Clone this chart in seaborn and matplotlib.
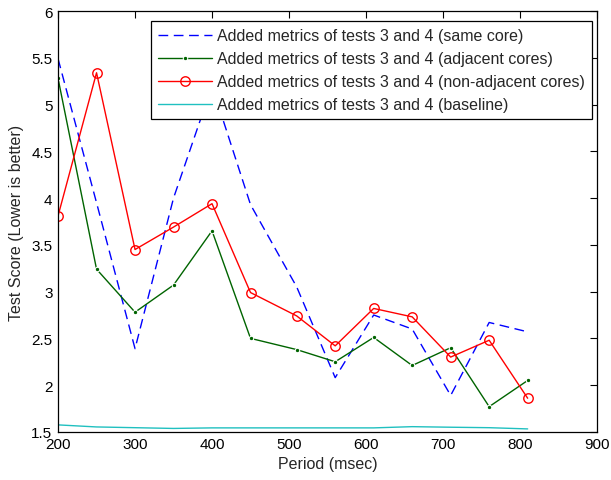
import matplotlib
matplotlib.use("Agg")
import matplotlib.pyplot as plt
import seaborn as sns
import pandas as pd

periods = [200, 250, 300, 350, 400, 450, 510, 560, 610, 660, 710, 760, 810]
same_core = [5.49, 3.95, 2.39, 4.00, 5.20, 3.93, 3.05, 2.08, 2.75, 2.60, 1.89, 2.67, 2.57]
adjacent = [5.28, 3.24, 2.78, 3.07, 3.65, 2.50, 2.38, 2.25, 2.51, 2.21, 2.40, 1.77, 2.05]
non_adjacent = [3.81, 5.34, 3.45, 3.69, 3.94, 2.99, 2.74, 2.42, 2.82, 2.73, 2.30, 2.48, 1.86]
baseline = [1.575, 1.553, 1.545, 1.537, 1.543, 1.543, 1.543, 1.543, 1.543, 1.556, 1.550, 1.545, 1.532]

labels = [
    "Added metrics of tests 3 and 4 (same core)",
    "Added metrics of tests 3 and 4 (adjacent cores)",
    "Added metrics of tests 3 and 4 (non-adjacent cores)",
    "Added metrics of tests 3 and 4 (baseline)",
]
x_ticks = [200, 300, 400, 500, 600, 700, 800, 900]
y_ticks = [1.5, 2, 2.5, 3, 3.5, 4, 4.5, 5, 5.5, 6]
y_tick_labels = ["1.5", "2", "2.5", "3", "3.5", "4", "4.5", "5", "5.5", "6"]

sns.set_style("white")
plt.rcParams["font.family"] = ["Liberation Sans", "DejaVu Sans"]

fig = plt.figure(figsize=(6.11, 4.81), dpi=100)
ax = fig.add_axes([0.095, 0.1, 0.882, 0.875])

series = [same_core, adjacent, non_adjacent, baseline]
styles = [
    dict(color="#0000ff", linestyle=(0, (7, 4)), marker=None),
    dict(color="#006400", linestyle="-", marker="o", markersize=3.2),
    dict(color="#ff0000", linestyle="-", marker="o", markersize=6.8,
         markerfacecolor="none", markeredgecolor="#ff0000", markeredgewidth=1.0),
    dict(color="#20c0c0", linestyle="-", marker=None),
]
for vals, lab, st in zip(series, labels, styles):
    df = pd.DataFrame({"Period": periods, "Score": vals})
    sns.lineplot(data=df, x="Period", y="Score", ax=ax, label=lab,
                 linewidth=1.0, **st)

ax.set_xlim(200, 900)
ax.set_ylim(1.5, 6)
ax.set_xticks(x_ticks)
ax.set_xticklabels([str(t) for t in x_ticks])
ax.set_yticks(y_ticks)
ax.set_yticklabels(y_tick_labels)
ax.tick_params(direction="in", length=5, width=0.8, top=True, right=True,
               labelsize=11, colors="black", pad=4)
for s in ax.spines.values():
    s.set_color("black")
    s.set_linewidth(0.9)
ax.set_xlabel("Period (msec)", fontsize=11.5, labelpad=3)
ax.set_ylabel("Test Score (Lower is better)", fontsize=11.5, labelpad=5)

leg = ax.legend(loc="upper right", bbox_to_anchor=(0.9907, 0.976),
                fontsize=11.5, frameon=True, fancybox=False, framealpha=1.0,
                facecolor="white", edgecolor="black", borderpad=0.45,
                handlelength=3.4, labelspacing=0.5, borderaxespad=0.0,
                handletextpad=0.3)
leg.get_frame().set_linewidth(0.9)

fig.savefig("out.png", dpi=100)
